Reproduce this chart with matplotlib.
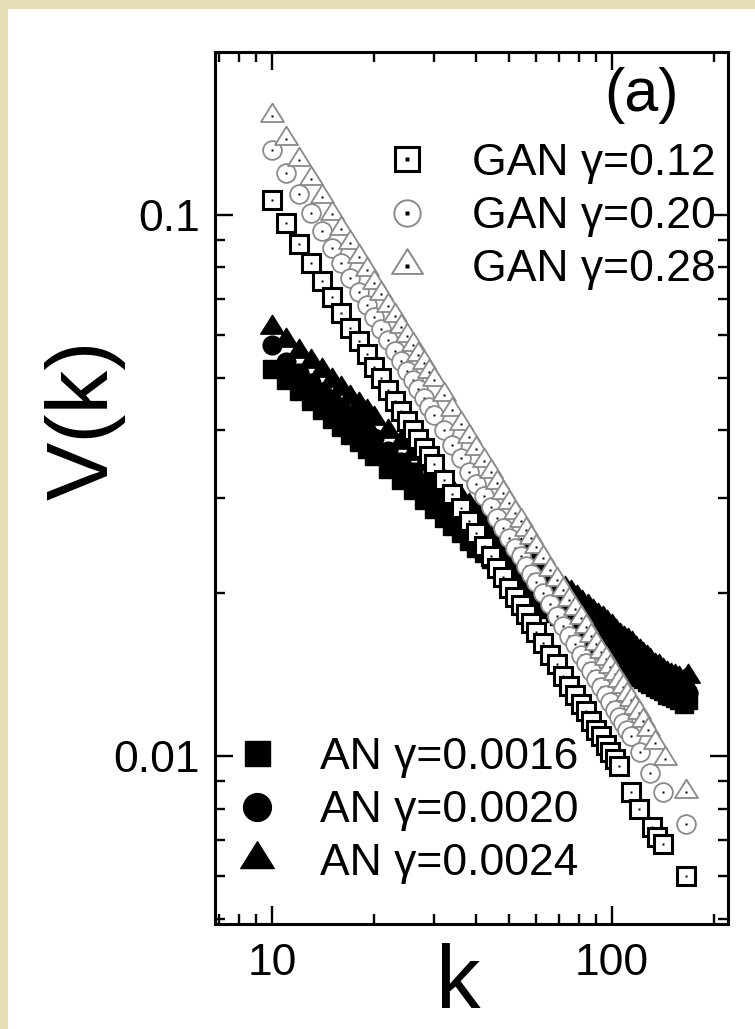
import matplotlib
matplotlib.use("Agg")
import matplotlib.pyplot as plt
from matplotlib.path import Path
from matplotlib.lines import Line2D
from matplotlib.patches import Rectangle
from matplotlib.ticker import FixedLocator, NullFormatter

plt.rcParams['font.family'] = ['Liberation Sans', 'DejaVu Sans']

#----------------------------------------------------------------------------------------#
# Data

# GAN gamma=0.12 (open squares)
gan1_k = [10, 11, 12, 13, 14, 15, 16, 17, 18, 19, 20, 21, 22, 23, 24, 25, 26, 27, 28, 29, 30,
          32, 34, 36, 38, 40, 42, 44, 46, 48, 50, 52, 54, 56, 58, 60,
          63, 66, 69, 72, 75, 78, 81, 84, 87, 90, 93, 96, 99, 102, 105,
          114, 120, 131, 136, 142, 165]
gan1_v = [0.1066, 0.0967, 0.0885, 0.0815, 0.0755, 0.0704, 0.0659, 0.0619, 0.0584, 0.0553, 0.0524,
          0.0499, 0.0475, 0.0454, 0.0435, 0.0417, 0.0401, 0.0386, 0.0371, 0.0358, 0.0346,
          0.0324, 0.0305, 0.0287, 0.0272, 0.0258, 0.0245, 0.0234, 0.0223, 0.0214, 0.0205,
          0.0197, 0.0190, 0.0183, 0.0176, 0.0170,
          0.0162, 0.0154, 0.0148, 0.0141, 0.0135, 0.0130, 0.0125, 0.0121, 0.0116, 0.0112,
          0.0109, 0.0105, 0.0102, 0.00988, 0.00959,
          0.0086, 0.0080, 0.0074, 0.0071, 0.0069, 0.0060]

# GAN gamma=0.20 (open circles)
gan2_k = [10, 11, 12, 13, 14, 15, 16, 17, 18, 19, 20, 21, 22, 23, 24, 25, 26, 27, 28, 29, 30,
          32, 34, 36, 38, 40, 42, 44, 46, 48, 50, 52, 54, 56, 58, 60,
          63, 66, 69, 72, 75, 78, 81, 84, 87, 90, 93, 96, 99, 102, 105,
          108, 111, 114, 121, 130, 142, 165]
gan2_v = [0.1318, 0.1195, 0.1093, 0.1007, 0.0934, 0.0870, 0.0814, 0.0765, 0.0722, 0.0683, 0.0648,
          0.0616, 0.0587, 0.0561, 0.0537, 0.0515, 0.0495, 0.0476, 0.0459, 0.0442, 0.0427,
          0.0400, 0.0376, 0.0355, 0.0335, 0.0318, 0.0303, 0.0289, 0.0276, 0.0264, 0.0253,
          0.0243, 0.0234, 0.0225, 0.0217, 0.0210,
          0.0200, 0.0191, 0.0182, 0.0174, 0.0167, 0.0161, 0.0154, 0.0149, 0.0144, 0.0139,
          0.0134, 0.0130, 0.0126, 0.0122, 0.0118,
          0.0115, 0.0112, 0.0109, 0.0102, 0.0093, 0.0086, 0.0075]

# GAN gamma=0.28 (open triangles)
gan3_k = [10, 11, 12, 13, 14, 15, 16, 17, 18, 19, 20, 21, 22, 23, 24, 25, 26, 27, 28, 29, 30,
          32, 34, 36, 38, 40, 42, 44, 46, 48, 50, 52, 54, 56, 58, 60,
          63, 66, 69, 72, 75, 78, 81, 84, 87, 90, 93, 96, 99, 102, 105,
          108, 111, 114, 117, 120, 124, 128, 134, 144, 166]
gan3_v = [0.1523, 0.1381, 0.1264, 0.1165, 0.1080, 0.1006, 0.0942, 0.0886, 0.0835, 0.0790, 0.0750,
          0.0714, 0.0680, 0.0650, 0.0622, 0.0597, 0.0574, 0.0552, 0.0532, 0.0513, 0.0496,
          0.0464, 0.0436, 0.0411, 0.0389, 0.0369, 0.0351, 0.0335, 0.0320, 0.0307, 0.0294,
          0.0282, 0.0272, 0.0262, 0.0253, 0.0244,
          0.0232, 0.0221, 0.0212, 0.0203, 0.0194, 0.0187, 0.0180, 0.0173, 0.0167, 0.0161,
          0.0156, 0.0151, 0.0146, 0.0142, 0.0138,
          0.0134, 0.0130, 0.0127, 0.0123, 0.0120, 0.0116, 0.0112, 0.0106, 0.0099, 0.0086]

# AN series (filled markers), same k for the three of them
an_k = [10, 11, 12, 13, 14, 15, 16, 17, 18, 19, 20,
        22, 24, 26, 28, 30, 32, 34, 36, 38, 40,
        42, 44, 46, 48, 50, 52, 54, 56, 58, 60, 62, 64, 66, 68, 70,
        73, 76, 79, 82, 85, 88, 91, 94, 97, 100, 103, 106, 109, 112, 115, 118, 121, 124, 127, 130,
        134, 138, 142, 146, 150, 154, 158, 163, 168]
an1_v = [0.0520, 0.0495, 0.0473, 0.0454, 0.0436, 0.0420, 0.0405, 0.0392, 0.0380, 0.0369, 0.0358,
         0.0340, 0.0324, 0.0310, 0.0297, 0.0286, 0.0276, 0.0266, 0.0258, 0.0250, 0.0243,
         0.0237, 0.0231, 0.0226, 0.0221, 0.0216, 0.0212, 0.0208, 0.0204, 0.0200, 0.0197,
         0.0194, 0.0190, 0.0187, 0.0184, 0.0182,
         0.0178, 0.0175, 0.0172, 0.0169, 0.0166, 0.0163, 0.0161, 0.0158, 0.0156, 0.0153,
         0.0151, 0.0149, 0.0147, 0.0146, 0.0144, 0.0142, 0.0140, 0.0139, 0.0137, 0.0136,
         0.0134, 0.0133, 0.0132, 0.0130, 0.0129, 0.0128, 0.0127, 0.0125, 0.0127]
an2_v = [0.0575, 0.0536, 0.0511, 0.0490, 0.0471, 0.0454, 0.0437, 0.0423, 0.0410, 0.0398, 0.0387,
         0.0367, 0.0350, 0.0335, 0.0320, 0.0308, 0.0297, 0.0287, 0.0278, 0.0269, 0.0262,
         0.0255, 0.0249, 0.0243, 0.0238, 0.0232, 0.0228, 0.0223, 0.0219, 0.0215, 0.0211,
         0.0208, 0.0204, 0.0201, 0.0197, 0.0195,
         0.0191, 0.0187, 0.0184, 0.0181, 0.0178, 0.0175, 0.0172, 0.0169, 0.0167, 0.0164,
         0.0161, 0.0159, 0.0157, 0.0155, 0.0153, 0.0151, 0.0149, 0.0147, 0.0146, 0.0144,
         0.0142, 0.0140, 0.0139, 0.0137, 0.0136, 0.0134, 0.0133, 0.0132, 0.0131]
an3_v = [0.0618, 0.0586, 0.0559, 0.0535, 0.0514, 0.0494, 0.0476, 0.0460, 0.0446, 0.0433, 0.0420,
         0.0398, 0.0379, 0.0362, 0.0346, 0.0333, 0.0321, 0.0309, 0.0299, 0.0290, 0.0281,
         0.0274, 0.0267, 0.0261, 0.0255, 0.0249, 0.0244, 0.0239, 0.0235, 0.0230, 0.0226,
         0.0222, 0.0218, 0.0215, 0.0211, 0.0208,
         0.0204, 0.0200, 0.0196, 0.0192, 0.0189, 0.0185, 0.0182, 0.0179, 0.0176, 0.0173,
         0.0170, 0.0167, 0.0165, 0.0163, 0.0161, 0.0158, 0.0156, 0.0154, 0.0152, 0.0150,
         0.0147, 0.0146, 0.0144, 0.0142, 0.0141, 0.0140, 0.0139, 0.0137, 0.0140]

gan_labels = ['GAN \u03b3=0.12', 'GAN \u03b3=0.20', 'GAN \u03b3=0.28']
an_labels = ['AN \u03b3=0.0016', 'AN \u03b3=0.0020', 'AN \u03b3=0.0024']

#----------------------------------------------------------------------------------------#
# Markers

# triangle whose data point sits low (like the original software)
tri = Path([(0, 1.12), (-1.0, -0.48), (1.0, -0.48), (0, 1.12)],
           [Path.MOVETO, Path.LINETO, Path.LINETO, Path.CLOSEPOLY])

GREY = '#8a8a8a'

def open_points(ax, k, v, marker, ms, edge, mew):
    # one point at a time so that the white face hides the dot of the previous one
    for x, y in zip(k, v):
        ax.plot([x], [y], ls='none', marker=marker, ms=ms, mfc='white', mec=edge, mew=mew)
        ax.plot([x], [y], ls='none', marker='s', ms=1.9, mfc='black', mec='none')

#----------------------------------------------------------------------------------------#
# Figure

W, H = 755, 1029
fig = plt.figure(figsize=(W / 100, H / 100), dpi=100)
fig.patch.set_facecolor('#e6dfb8')
fig.patches.append(Rectangle((8 / W, 0), 1, 1 - 9 / H, transform=fig.transFigure,
                             facecolor='white', edgecolor='none', zorder=-10))

ax = fig.add_axes([215 / W, 1 - 924 / H, (728 - 215) / W, (924 - 52) / H])
ax.set_zorder(1)
ax.set_xscale('log')
ax.set_yscale('log')
ax.set_xlim(6.8, 220)
ax.set_ylim(0.0049, 0.2)

# AN first (under), then GAN
ax.plot(an_k, an1_v, ls='none', marker='s', ms=12.5, color='black')
ax.plot(an_k, an2_v, ls='none', marker='o', ms=13.5, color='black')
ax.plot(an_k, an3_v, ls='none', marker=tri, ms=19, color='black')

open_points(ax, gan1_k, gan1_v, 's', 13.0, 'black', 2.2)
open_points(ax, gan2_k, gan2_v, 'o', 13.5, GREY, 1.3)
open_points(ax, gan3_k, gan3_v, tri, 18.5, GREY, 1.3)

# ticks
ax.xaxis.set_major_locator(FixedLocator([10, 100]))
ax.xaxis.set_minor_locator(FixedLocator([7, 8, 9, 20, 30, 40, 50, 60, 70, 80, 90, 200]))
ax.set_xticklabels(['10', '100'])
ax.xaxis.set_minor_formatter(NullFormatter())
ax.yaxis.set_major_locator(FixedLocator([0.01, 0.1]))
ax.yaxis.set_minor_locator(FixedLocator([0.005, 0.006, 0.007, 0.008, 0.009,
                                         0.02, 0.03, 0.04, 0.05, 0.06, 0.07, 0.08, 0.09]))
ax.set_yticklabels(['0.01', '0.1'])
ax.yaxis.set_minor_formatter(NullFormatter())
ax.tick_params(which='both', direction='in', top=True, right=True, width=1.7, labelsize=32)
ax.tick_params(which='major', length=13)
ax.tick_params(which='minor', length=7)
ax.tick_params(axis='x', pad=14)
ax.tick_params(axis='y', pad=11)
for s in ax.spines.values():
    s.set_linewidth(2.2)

ax.set_xlabel('k', fontsize=64)
ax.xaxis.set_label_coords(0.474, -0.022)
ax.set_ylabel('V(k)', fontsize=63)
ax.yaxis.set_label_coords(-0.175, 0.578)

ax.text(0.904, 0.983, '(a)', transform=ax.transAxes, ha='right', va='top', fontsize=44)

#----------------------------------------------------------------------------------------#
# Legends

dot = dict(ls='none', marker='s', ms=2.2, mfc='black', mec='none')
gan_handles = [
    (Line2D([], [], ls='none', marker='s', ms=17, mfc='white', mec='black', mew=2.2), Line2D([], [], **dot)),
    (Line2D([], [], ls='none', marker='o', ms=19, mfc='white', mec=GREY, mew=1.4), Line2D([], [], **dot)),
    (Line2D([], [], ls='none', marker=tri, ms=25, mfc='white', mec=GREY, mew=1.4), Line2D([], [], **dot)),
]
an_handles = [
    Line2D([], [], ls='none', marker='s', ms=18, color='black'),
    Line2D([], [], ls='none', marker='o', ms=20, color='black'),
    Line2D([], [], ls='none', marker=tri, ms=27, color='black'),
]

leg1 = ax.legend(gan_handles, gan_labels, loc='upper left',
                 bbox_to_anchor=(386 / W, 1 - 143 / H), bbox_transform=fig.transFigure,
                 frameon=False, fontsize=32, handlelength=0.94, handletextpad=1.0,
                 labelspacing=0.275, borderpad=0, borderaxespad=0, numpoints=1)
ax.add_artist(leg1)
leg2 = ax.legend(an_handles, an_labels, loc='upper left',
                 bbox_to_anchor=(236 / W, 1 - 737 / H), bbox_transform=fig.transFigure,
                 frameon=False, fontsize=32, handlelength=0.94, handletextpad=0.94,
                 labelspacing=0.275, borderpad=0, borderaxespad=0, numpoints=1)

fig.savefig('out.png', dpi=100, facecolor=fig.get_facecolor())
